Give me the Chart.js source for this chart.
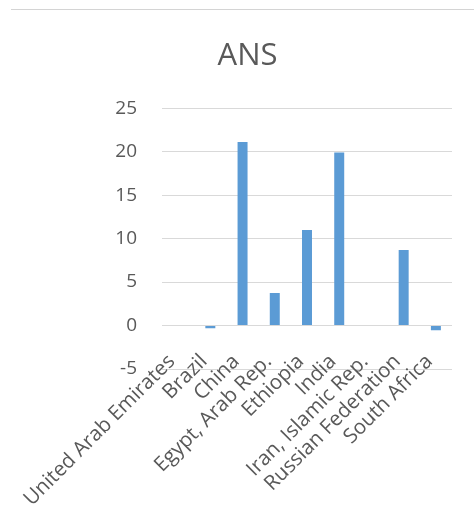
<!DOCTYPE html>
<html>
<head>
<meta charset="utf-8">
<script src="https://cdn.jsdelivr.net/npm/chart.js@4/dist/chart.umd.min.js"></script>
<style>
  html, body { margin: 0; padding: 0; background: #fff; }
  #wrap { position: relative; width: 474px; height: 520px; }
  #rule { position: absolute; left: 11px; right: 0; top: 9px; height: 1px; background: #d4d4d4; }
</style>
</head>
<body>
<div id="wrap">
  <div id="rule"></div>
  <canvas id="mychart" width="474" height="520"></canvas>
</div>
<script>
(() => {
    'use strict';

    // values
    const countries = ['United Arab Emirates', 'Brazil', 'China', 'Egypt, Arab Rep.', 'Ethiopia',
        'India', 'Iran, Islamic Rep.', 'Russian Federation', 'South Africa'];
    const ansValues = [null, -0.3, 21.1, 3.75, 11.0, 19.9, null, 8.7, -0.55];
    const yTicks = [-5, 0, 5, 10, 15, 20, 25];

    const grey = '#595959';

    const canvas = document.getElementById('mychart');
    new Chart(canvas, {
        type: 'bar',
        data: {
            labels: countries,
            datasets: [{
                label: 'ANS',
                data: ansValues,
                backgroundColor: '#5B9BD5',
                barPercentage: 0.31,
                categoryPercentage: 1,
            }],
        },
        options: {
            responsive: false,
            animation: false,
            layout: { padding: { left: 43, right: 22, top: 0, bottom: 0 } },
            plugins: {
                legend: { display: false },
                tooltip: { enabled: false },
                title: {
                    display: true,
                    text: 'ANS',
                    color: grey,
                    font: { family: 'Open Sans', size: 31, weight: 'normal' },
                    padding: { top: 38, bottom: 33 },
                },
            },
            scales: {
                x: {
                    grid: { display: false },
                    border: { display: false },
                    ticks: {
                        color: grey,
                        font: { family: 'Open Sans', size: 20.5 },
                        minRotation: 45,
                        maxRotation: 45,
                        // mirror keeps labels from being clipped to the axis box,
                        // so they can sit over the bottom of the plot like the original
                        mirror: true,
                        padding: 2,
                        labelOffset: 11,
                        autoSkip: false,
                    },
                    afterFit: (scale) => { scale.height = 151; },
                },
                y: {
                    min: -5,
                    max: 25,
                    afterBuildTicks: (scale) => {
                        scale.ticks = yTicks.map(v => ({ value: v }));
                    },
                    grid: { color: '#D9D9D9', lineWidth: 1, drawTicks: false },
                    border: { display: false },
                    ticks: {
                        color: grey,
                        font: { family: 'Open Sans', size: 19 },
                        padding: 25,
                    },
                    afterFit: (scale) => { scale.width = 119; },
                },
            },
        },
    });
})();
</script>
</body>
</html>
